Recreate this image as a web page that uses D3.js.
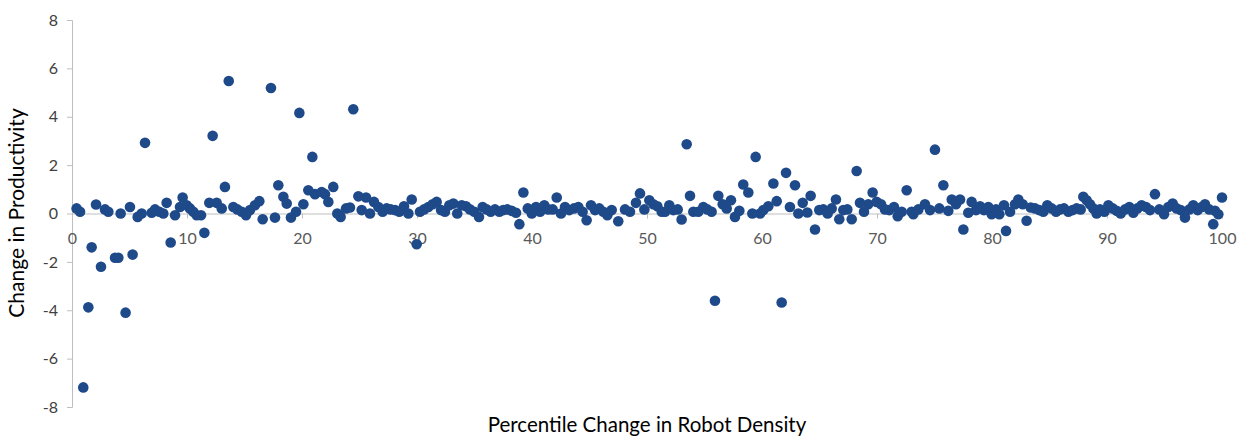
<!DOCTYPE html>
<html><head><meta charset="utf-8">
<script src="https://cdn.jsdelivr.net/npm/d3@7"></script>
<style>body{margin:0;background:#fff}svg{display:block}</style>
</head><body><svg id="c" width="1247" height="436"></svg>
<script>
const xVals = [0.4,0.7,0.98,1.42,1.71,2.09,2.52,2.87,3.16,3.74,4.03,4.23,4.66,5.04,5.27,5.71,6.06,6.35,6.93,7.22,7.59,7.94,8.23,8.58,8.96,9.39,9.62,9.97,10.26,10.55,10.84,11.22,11.51,11.94,12.23,12.58,13.02,13.3,13.63,14.03,14.38,14.76,15.13,15.48,15.91,16.29,16.58,17.3,17.65,17.94,18.38,18.67,19.04,19.48,19.77,20.12,20.55,20.9,21.13,21.71,22.0,22.29,22.72,23.07,23.36,23.83,24.17,24.46,24.9,25.19,25.57,25.91,26.26,26.64,27.01,27.36,27.71,28.09,28.46,28.87,29.25,29.54,29.97,30.26,30.61,30.99,31.36,31.71,32.09,32.43,32.81,33.16,33.5,33.89,34.26,34.61,34.98,35.39,35.71,36.06,36.41,36.78,37.16,37.5,37.85,38.23,38.61,38.9,39.25,39.63,39.98,40.35,40.7,41.07,41.42,41.8,42.15,42.52,42.87,43.24,43.65,44.03,44.4,44.75,45.13,45.48,45.85,46.2,46.55,46.93,47.5,48.09,48.52,49.04,49.39,49.77,50.2,50.55,50.9,51.28,51.57,51.94,52.29,52.67,53.01,53.45,53.74,54.03,54.46,54.9,55.24,55.62,55.91,56.2,56.58,56.93,57.3,57.65,58.03,58.37,58.81,59.16,59.45,59.83,60.12,60.55,60.99,61.28,61.71,62.09,62.43,62.87,63.16,63.54,63.94,64.23,64.61,64.98,65.33,65.71,66.06,66.43,66.72,67.07,67.42,67.8,68.23,68.52,68.87,69.24,69.62,69.97,70.35,70.7,71.07,71.48,71.8,72.15,72.58,73.01,73.16,73.59,74.17,74.61,75.04,75.42,75.77,76.2,76.5,76.87,77.22,77.51,77.94,78.23,78.61,78.96,79.3,79.68,79.97,80.35,80.64,81.04,81.22,81.57,82.0,82.29,82.67,83.01,83.37,83.74,84.11,84.46,84.81,85.19,85.57,85.91,86.26,86.64,87.01,87.36,87.71,87.94,88.23,88.52,88.81,89.1,89.39,89.77,90.12,90.5,90.84,91.19,91.57,91.94,92.29,92.64,93.01,93.39,93.74,94.17,94.55,94.96,95.33,95.71,96.06,96.41,96.78,97.16,97.5,97.89,98.23,98.52,98.89,99.24,99.39,99.68,100.0];
const yVals = [0.21,0.07,-7.19,-3.88,-1.40,0.37,-2.2,0.17,0.07,-1.83,-1.83,0.0,-4.1,0.27,-1.7,-0.14,0.0,2.92,0.03,0.17,0.07,0.0,0.44,-1.2,-0.07,0.27,0.66,0.34,0.21,0.07,-0.07,-0.07,-0.8,0.44,3.21,0.44,0.21,1.1,5.48,0.27,0.17,0.07,-0.07,0.14,0.34,0.51,-0.24,5.19,-0.17,1.17,0.69,0.41,-0.17,0.07,4.16,0.38,0.96,2.34,0.8,0.89,0.8,0.48,1.1,0.0,-0.14,0.21,0.25,4.31,0.71,0.14,0.66,0.0,0.48,0.27,0.07,0.21,0.17,0.14,0.07,0.3,0.0,0.58,-1.27,0.07,0.17,0.27,0.38,0.48,0.14,0.07,0.34,0.41,0.0,0.34,0.3,0.17,0.07,-0.14,0.27,0.17,0.07,0.17,0.07,0.14,0.17,0.11,0.03,-0.44,0.87,0.21,0.0,0.27,0.07,0.34,0.17,0.17,0.66,0.0,0.27,0.14,0.21,0.27,0.07,-0.28,0.34,0.14,0.21,0.07,-0.07,0.14,-0.32,0.17,0.07,0.44,0.83,0.17,0.55,0.38,0.3,0.07,0.07,0.34,0.14,0.17,-0.25,2.86,0.73,0.07,0.07,0.27,0.17,0.07,-3.61,0.73,0.38,0.21,0.55,-0.14,0.11,1.2,0.87,0.0,2.34,0.0,0.14,0.3,1.24,0.51,-3.68,1.68,0.27,1.17,0.0,0.44,0.04,0.73,-0.66,0.14,0.17,0.0,0.21,0.58,-0.24,0.14,0.17,-0.24,1.76,0.44,0.07,0.38,0.87,0.48,0.38,0.17,0.14,0.27,-0.11,0.07,0.96,0.07,-0.03,0.17,0.38,0.14,2.64,0.21,1.17,0.11,0.58,0.38,0.58,-0.66,0.03,0.48,0.14,0.3,0.14,0.27,-0.03,0.17,-0.03,0.34,-0.72,0.07,0.38,0.58,0.38,-0.3,0.25,0.21,0.14,0.07,0.34,0.21,0.07,0.17,0.21,0.07,0.14,0.21,0.17,0.69,0.55,0.38,0.21,0.0,0.17,0.07,0.34,0.21,0.11,0.0,0.17,0.27,0.03,0.21,0.34,0.27,0.14,0.8,0.17,-0.03,0.27,0.41,0.21,0.14,-0.17,0.17,0.34,0.14,0.27,0.38,0.17,-0.44,0.11,-0.03,0.66];
const xTicks = [0,10,20,30,40,50,60,70,80,90,100];
const yTicks = [-8,-6,-4,-2,0,2,4,6,8];
const xTitle = "Percentile Change in Robot Density";
const yTitle = "Change in Productivity";

const svg = d3.select("#c");
const x = d3.scaleLinear().domain([0,100]).range([72,1222]);
const y = d3.scaleLinear().domain([-8,8]).range([407,20]);
const font = "Lato, 'Open Sans', sans-serif";
const fmt = d => String(d);

// y axis
const ya = svg.append("g").attr("transform","translate(72,0)")
  .call(d3.axisLeft(y).tickValues(yTicks).tickSize(5).tickPadding(9).tickFormat(fmt));
ya.select(".domain").attr("stroke","#bfbfbf");
ya.selectAll(".tick line").attr("stroke","#bfbfbf");
ya.selectAll(".tick text").attr("fill","#404040").style("font-family",font).style("font-size","16px");

// x axis at y=0
const xa = svg.append("g").attr("transform",`translate(0,${y(0)})`)
  .call(d3.axisBottom(x).tickValues(xTicks).tickSize(5).tickPadding(14).tickFormat(fmt));
xa.select(".domain").attr("stroke","#bfbfbf");
xa.selectAll(".tick line").attr("stroke","#bfbfbf");
xa.selectAll(".tick text").attr("fill","#595959").style("font-family",font).style("font-size","16px");

const data = xVals.map((v,i)=>({x:v,y:yVals[i]}));
svg.append("g").selectAll("circle").data(data).join("circle")
  .attr("cx",d=>x(d.x)).attr("cy",d=>y(d.y)).attr("r",5.3).attr("fill","#1f4a8a");

svg.append("text").attr("x",647).attr("y",432).attr("text-anchor","middle")
  .style("font-family",font).style("font-size","20.5px").attr("fill","#000").text(xTitle);
svg.append("text").attr("transform","translate(24,213) rotate(-90)").attr("text-anchor","middle")
  .style("font-family",font).style("font-size","21px").attr("fill","#000").text(yTitle);
</script></body></html>
